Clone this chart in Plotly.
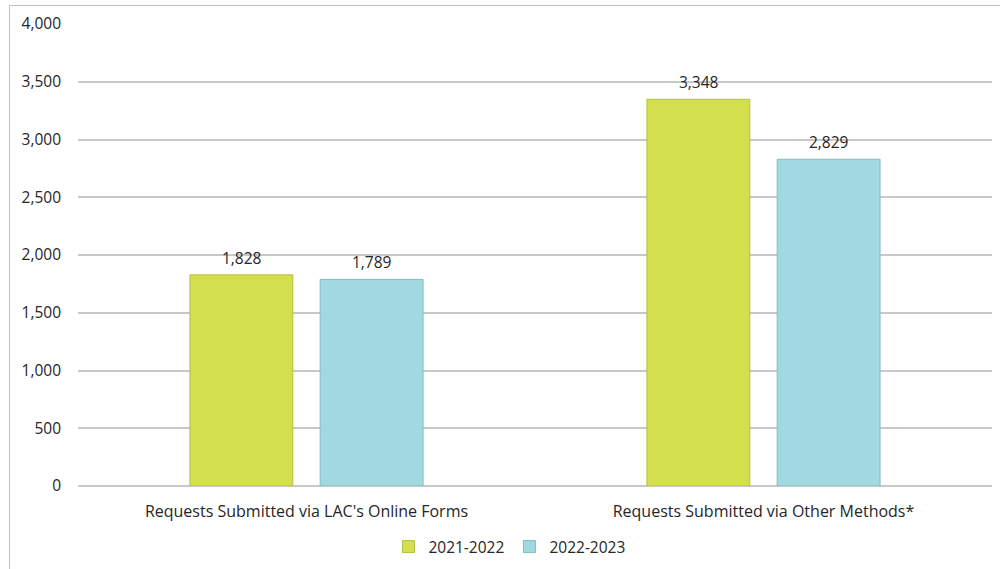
import plotly.graph_objects as go

categories = ["Requests Submitted via LAC's Online Forms", "Requests Submitted via Other Methods*"]
series_names = ["2021-2022", "2022-2023"]
values_2021_2022 = [1828, 3348]
values_2022_2023 = [1789, 2829]
y_ticks = [0, 500, 1000, 1500, 2000, 2500, 3000, 3500, 4000]

colors = ["#D4DF4E", "#A0D9E0"]
outlines = ["#B5BE45", "#87B9BF"]
font_family = "'Open Sans', sans-serif"
text_color = "#262626"

W, H = 1000, 569
ml, mr, mt, mb = 78, 8, 24, 83

fig = go.Figure()
series_values = [values_2021_2022, values_2022_2023]
for name, vals, c, oc in zip(series_names, series_values, colors, outlines):
    fig.add_trace(go.Bar(
        x=categories, y=vals, name=name,
        marker=dict(color=c, line=dict(color=oc, width=1)),
    ))

# value labels above each bar (offset to the bar's slot within the group)
for shift, vals in zip([-65, 65], series_values):
    for cat, v in zip(categories, vals):
        fig.add_annotation(x=cat, y=v, text=f"{v:,}", showarrow=False,
                           xshift=shift, yshift=17, yanchor="middle",
                           font=dict(size=15.5, color=text_color, family=font_family))

# outer frame lines (left and top edges)
pw = W - ml - mr
ph = H - mt - mb
def px_x(p):
    return (p - ml) / pw
def px_y(p):
    return (H - mb - p) / ph

fig.add_shape(type="line", xref="paper", yref="paper",
              x0=px_x(9.5), x1=px_x(1005), y0=px_y(5.5), y1=px_y(5.5),
              line=dict(color="#BFBFBF", width=1))
fig.add_shape(type="line", xref="paper", yref="paper",
              x0=px_x(9.5), x1=px_x(9.5), y0=px_y(5.5), y1=px_y(575),
              line=dict(color="#BFBFBF", width=1))

fig.update_layout(
    width=W, height=H,
    margin=dict(l=ml, r=mr, t=mt, b=mb, autoexpand=False),
    paper_bgcolor="white", plot_bgcolor="white",
    barmode="group", bargap=0.43, bargroupgap=0.21,
    font=dict(family=font_family, size=15.5, color=text_color),
    showlegend=True,
    legend=dict(orientation="h", x=0.472, xanchor="center", y=px_y(547), yanchor="middle",
                font=dict(size=15.5, color=text_color, family=font_family),
                itemwidth=30, traceorder="normal"),
    xaxis=dict(showline=False, ticks="", tickfont=dict(size=16), ticklabelstandoff=14,
               automargin=False),
    yaxis=dict(range=[0, 4000], tickvals=y_ticks, ticktext=[f"{v:,}" for v in y_ticks],
               showgrid=True, gridcolor="#C8C8C8", gridwidth=1.5,
               zeroline=True, zerolinecolor="#C8C8C8", zerolinewidth=1.5,
               ticks="", tickfont=dict(size=15.5), ticklabelstandoff=16, automargin=False),
)

fig.write_html("out.html")
